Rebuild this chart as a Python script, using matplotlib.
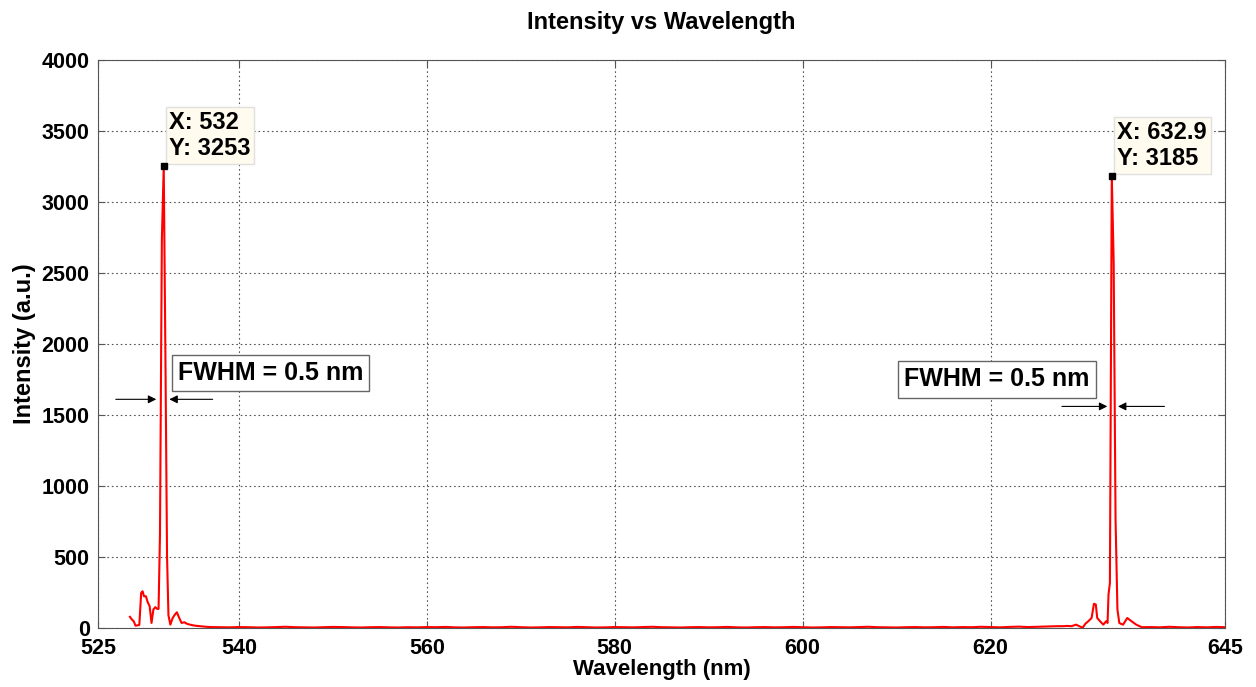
import numpy as np
import matplotlib.pyplot as plt

plt.rcParams['font.family'] = ['Liberation Sans', 'DejaVu Sans']
plt.rcParams['font.weight'] = 'bold'

# Spectrum, in segments.
# Green line region (around 532 nm)
peak1_nm = [528.4, 528.6, 528.8, 529.0, 529.2, 529.4, 529.6, 529.75, 529.9, 530.1,
            530.3, 530.5, 530.7, 530.9, 531.1, 531.3, 531.45, 531.6, 531.8, 532.0,
            532.2, 532.35, 532.5, 532.7, 532.95, 533.2, 533.4, 533.65, 533.9, 534.2,
            534.5, 534.8, 535.3, 535.9, 536.5]
peak1_counts = [78, 60, 47, 16, 18, 21, 247, 258, 223, 223,
                180, 153, 35, 130, 146, 134, 134, 660, 2734, 3253,
                1746, 511, 90, 23, 70, 95, 110, 70, 35, 40,
                28, 23, 16, 12, 8]

# Flat baseline, 537 to 627 nm
base_nm = list(range(537, 628))
base_counts = [6, 5, 4, 6, 5, 3, 4, 6, 8, 5, 4, 3, 5, 7, 6, 4, 3, 5, 6, 4,
               3, 5, 4, 6, 5, 7, 4, 3, 5, 6, 4, 5, 8, 5, 3, 4, 6, 5, 4, 7,
               5, 3, 4, 6, 5, 4, 6, 8, 5, 4, 3, 5, 6, 4, 5, 7, 4, 3, 5, 6,
               4, 5, 7, 5, 3, 4, 6, 5, 4, 6, 8, 5, 4, 3, 5, 6, 4, 5, 7, 4,
               6, 5, 8, 6, 4, 7, 9, 6, 8, 10, 12]

# He-Ne line region (around 632.9 nm)
peak2_nm = [627.6, 628.2, 628.6, 629.1, 629.5, 629.8, 630.1, 630.4, 630.75, 631.0,
            631.2, 631.35, 631.65, 632.0, 632.3, 632.45, 632.55, 632.7, 632.9, 633.1,
            633.3, 633.5, 633.7, 633.9, 634.1, 634.55, 635.0, 635.5, 636.1]
peak2_counts = [12, 14, 12, 23, 10, 2, 30, 47, 70, 170,
                165, 70, 47, 23, 47, 35, 235, 317, 3185, 2576,
                765, 130, 35, 28, 23, 70, 47, 23, 5]

tail_nm = [637, 638, 639, 640, 641, 642, 643, 644, 645]
tail_counts = [6, 4, 8, 5, 3, 6, 4, 7, 5]

wavelength = np.array(peak1_nm + base_nm + peak2_nm + tail_nm)
intensity = np.array(peak1_counts + base_counts + peak2_counts + tail_counts)

tips_x = [532, 632.9]
tips_y = [3253, 3185]
tip_labels = ['X: 532\nY: 3253', 'X: 632.9\nY: 3185']

x_ticks = [525, 540, 560, 580, 600, 620, 645]
y_ticks = list(range(0, 4001, 500))

fig = plt.figure(figsize=(12.56, 6.87), dpi=100)
ax = fig.add_axes([0.078, 0.086, 0.8977, 0.8267])

ax.plot(wavelength, intensity, color='red', lw=1.5)

ax.set_xlim(525, 645)
ax.set_ylim(0, 4000)
ax.set_xticks(x_ticks)
ax.set_yticks(y_ticks)
ax.tick_params(direction='in', top=True, right=True, labelsize=15.5, length=5,
               color='#555555')
ax.tick_params(axis='x', pad=7.6)
ax.tick_params(axis='y', pad=6)
for s in ax.spines.values():
    s.set_color('#555555')
ax.grid(True, color='#555555', linestyle=(0, (1.5, 2.5)), lw=0.8)

ax.set_title('Intensity vs Wavelength', fontsize=17, fontweight='bold', pad=22)
ax.set_xlabel('Wavelength (nm)', fontsize=16, fontweight='bold', labelpad=0)
ax.set_ylabel('Intensity (a.u.)', fontsize=17, fontweight='bold', labelpad=4)

# data tips
ax.plot(tips_x, tips_y, 's', color='black', ms=5, zorder=5)
for tx, ty, lab in zip(tips_x, tips_y, tip_labels):
    ax.annotate(lab, xy=(tx, ty), xytext=(4, 4), textcoords='offset points',
                ha='left', va='bottom', fontsize=17, fontweight='bold',
                linespacing=1.2,
                bbox=dict(boxstyle='square,pad=0.15', fc='#fffbee', ec='#e0e0e0'))

# FWHM markers
arrow = dict(arrowstyle='-|>', color='black', lw=0.8, mutation_scale=12)
ax.annotate('', xy=(531.5, 1610), xytext=(526.6, 1610), arrowprops=arrow)
ax.annotate('', xy=(532.3, 1610), xytext=(537.5, 1610), arrowprops=arrow)
ax.annotate('', xy=(632.72, 1560), xytext=(627.3, 1560), arrowprops=arrow)
ax.annotate('', xy=(633.26, 1560), xytext=(638.8, 1560), arrowprops=arrow)

box = dict(boxstyle='square,pad=0.25', fc='white', ec='#666666')
ax.text(533.5, 1795, 'FWHM = 0.5 nm', fontsize=18, fontweight='bold',
        va='center', ha='left', bbox=box)
ax.text(610.8, 1750, 'FWHM = 0.5 nm', fontsize=18, fontweight='bold',
        va='center', ha='left', bbox=box)

fig.savefig('out.png', dpi=100)
